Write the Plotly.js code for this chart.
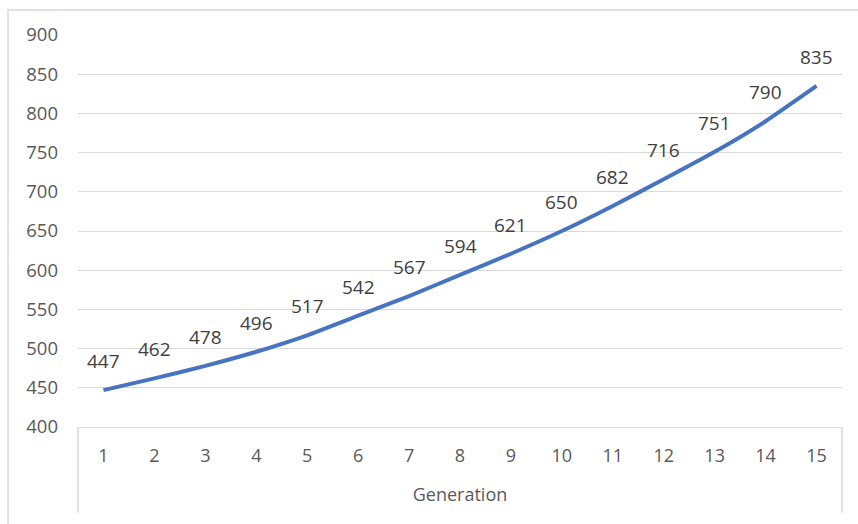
<!DOCTYPE html>
<html>
<head>
<meta charset="utf-8">
<script src="https://cdn.plot.ly/plotly-3.0.1.min.js"></script>
<style>
  html, body { margin: 0; padding: 0; background: #ffffff; }
  #chart { width: 858px; height: 524px; }
</style>
</head>
<body>
<div id="chart"></div>
<script>
// Generation on the x axis, value per generation on the y axis
const generations = [1, 2, 3, 4, 5, 6, 7, 8, 9, 10, 11, 12, 13, 14, 15];
const values = [447, 462, 478, 496, 517, 542, 567, 594, 621, 650, 682, 716, 751, 790, 835];
const yTicks = [400, 450, 500, 550, 600, 650, 700, 750, 800, 850, 900];
const xTitle = 'Generation';

const FONT = 'Open Sans, sans-serif';
const GRID = '#d9d9d9';
const TEXT = '#595959';

const xCats = generations.map(String);

const trace = {
  type: 'scatter',
  mode: 'lines',
  x: xCats,
  y: values,
  line: { color: '#4674c0', width: 4, shape: 'spline', smoothing: 0.5 },
  hoverinfo: 'x+y'
};

// value labels above each point (category axes take the category index)
const labels = values.map((v, i) => ({
  x: i,
  y: v,
  xref: 'x',
  yref: 'y',
  text: String(v),
  showarrow: false,
  yshift: 29,
  font: { family: FONT, size: 19, color: '#404040' }
}));

const layout = {
  width: 858,
  height: 524,
  margin: { l: 78, r: 16, t: 35, b: 97 },
  paper_bgcolor: '#ffffff',
  plot_bgcolor: '#ffffff',
  showlegend: false,
  font: { family: FONT, size: 18, color: TEXT },
  xaxis: {
    type: 'category',
    range: [-0.5, 14.5],
    showgrid: false,
    zeroline: false,
    showline: true,
    linecolor: GRID,
    linewidth: 1,
    ticks: '',
    ticklabelstandoff: 12,
    tickfont: { family: FONT, size: 18, color: TEXT },
    title: { text: xTitle, standoff: 22, font: { family: FONT, size: 18, color: TEXT } }
  },
  yaxis: {
    range: [400, 900],
    tickvals: yTicks,
    showgrid: true,
    gridcolor: GRID,
    gridwidth: 1,
    zeroline: false,
    showline: false,
    ticks: '',
    ticklabelstandoff: 19,
    tickfont: { family: FONT, size: 18.5, color: TEXT }
  },
  annotations: labels,
  shapes: [
    // category axis box sides
    { type: 'line', xref: 'paper', yref: 'paper', x0: 0, x1: 0, y0: 0, y1: -0.219,
      line: { color: GRID, width: 1.5 } },
    { type: 'line', xref: 'paper', yref: 'paper', x0: 1, x1: 1, y0: 0, y1: -0.219,
      line: { color: GRID, width: 1.5 } },
    // chart frame
    { type: 'rect', xref: 'paper', yref: 'paper', x0: -0.0916, x1: 1.05, y0: -0.27, y1: 1.0638,
      line: { color: GRID, width: 1.5 }, fillcolor: 'rgba(0,0,0,0)' }
  ]
};

Plotly.newPlot('chart', [trace], layout, { displayModeBar: false, staticPlot: true });
</script>
</body>
</html>
